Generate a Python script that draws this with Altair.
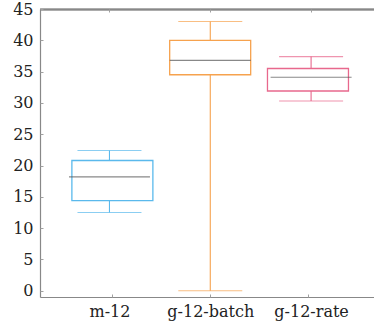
import json
import altair as alt
import pandas as pd

cats = ["m-12", "g-12-batch", "g-12-rate"]
low = [12.5, 0.0, 30.3]
q1 = [14.4, 34.5, 31.9]
med = [18.2, 36.8, 34.1]
q3 = [20.8, 40.0, 35.5]
high = [22.4, 43.0, 37.4]
colors = ["#5ab9ec", "#f6a24e", "#e8688d"]
yticks = [0, 5, 10, 15, 20, 25, 30, 35, 40, 45]

df = pd.DataFrame({
    "cat": cats,
    "pos": list(range(1, len(cats) + 1)),
    "low": low, "q1": q1, "med": med, "q3": q3, "high": high,
})

W, H = 334, 288
FONT = "DejaVu Serif"
label_expr = json.dumps(cats) + "[datum.value - 1]"


def xs():
    return alt.Scale(domain=[0.311, 3.624], nice=False, zero=False)


def ys():
    return alt.Scale(domain=[-1, 45], nice=False, zero=False)


col = alt.Color("cat:N", scale=alt.Scale(domain=cats, range=colors), legend=None)
TICK = "#a0a0a0"
DOM = "#888888"

base = alt.Chart(df)

whisk = base.mark_rule(strokeWidth=1.1).encode(
    x=alt.X("pos:Q", scale=xs(), title=None,
            axis=alt.Axis(orient="bottom", values=[1, 2, 3], labelExpr=label_expr,
                          ticks=False, grid=False, domainColor=DOM, domainWidth=1.2,
                          labelFont=FONT, labelFontSize=16, labelColor="#222",
                          labelPadding=6)),
    y=alt.Y("low:Q", scale=ys(), title=None,
            axis=alt.Axis(orient="left", values=yticks, ticks=False, grid=False,
                          domainColor=DOM, domainWidth=1.2, labelFont=FONT,
                          labelFontSize=16, labelColor="#222", labelPadding=7)),
    y2="high:Q",
    color=col,
)

caps = base.transform_fold(["low", "high"], as_=["k", "v"]).mark_tick(
    orient="horizontal", size=64, thickness=1.1
).encode(
    x=alt.X("pos:Q", scale=xs(), title=None,
            axis=alt.Axis(orient="top", values=[1, 2, 3], labels=False,
                          domain=True, domainColor=DOM, domainWidth=1.5,
                          grid=False, ticks=False, zindex=1)),
    y=alt.Y("v:Q", scale=ys(), title=None,
            axis=alt.Axis(orient="left", offset=-3, values=yticks, labels=False,
                          domain=False, grid=False, ticks=True, tickSize=3,
                          tickColor=TICK, zindex=1)),
    color=col,
)

boxes = base.mark_bar(size=81, fill="white", strokeWidth=1.3).encode(
    x=alt.X("pos:Q", scale=xs(), title=None,
            axis=alt.Axis(orient="top", offset=-H, values=[1, 2, 3], labels=False,
                          domain=False, grid=False, ticks=True, tickSize=3,
                          tickColor=TICK, zindex=1)),
    y=alt.Y("q1:Q", scale=ys(), axis=None),
    y2="q3:Q",
    stroke=col,
)

meds = base.mark_tick(orient="horizontal", size=81, thickness=1.2, color="#555555").encode(
    x=alt.X("pos:Q", scale=xs(), title=None,
            axis=alt.Axis(orient="bottom", offset=-H, values=[1, 2, 3], labels=False,
                          domain=False, grid=False, ticks=True, tickSize=3,
                          tickColor=TICK, zindex=1)),
    y=alt.Y("med:Q", scale=ys(), axis=None),
)

frame_top = alt.Chart(df).mark_rule(color=DOM, strokeWidth=1.5).encode(
    x=alt.value(0), x2=alt.value(W), y=alt.value(0.5)
)

chart = alt.layer(whisk, caps, boxes, meds, frame_top).resolve_scale(
    x="independent", y="independent"
).resolve_axis(
    x="independent", y="independent"
).properties(
    width=W, height=H,
    autosize=alt.AutoSizeParams(type="none"),
    padding={"left": 40, "top": 9, "right": 0, "bottom": 29},
    background="white",
).configure_view(stroke=None)

chart.save("out.html", embed_options={"renderer": "svg", "actions": False})
